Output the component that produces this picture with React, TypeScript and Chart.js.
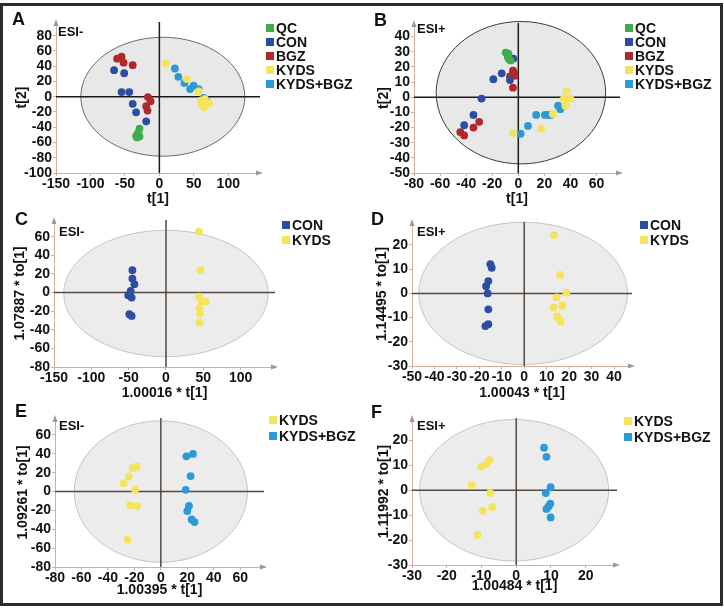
import React, { useEffect, useRef } from 'react';
import { Chart, registerables } from 'chart.js';

Chart.register(...registerables);

const FONT = "'Liberation Sans', Arial, Helvetica, sans-serif";

// ---------- colours ----------
const COL_QC = '#3fae49';
const COL_CON = '#2b4ea2';
const COL_BGZ = '#b1282b';
const COL_KYDS = '#f4e45a';
const COL_KB = '#2a9bd7';
const AXIS_COLOR = '#d9aaa2';

// ---------- data (score values) ----------
type Pt = [number, number];

// Panel A (ESI-, PCA t[1] vs t[2])
const A_QC: Pt[] = [[-28.9, -41.9], [-31.3, -47.6], [-33.8, -51.2], [-32.4, -53.4], [-28.9, -52]];
const A_CON: Pt[] = [[-65.7, 34.8], [-51, 30.8], [-54.9, 6.1], [-43.7, 6.1], [-38.7, -9.3], [-33.8, -20.4], [-19.1, -32.3]];
const A_BGZ: Pt[] = [[-61.3, 49.9], [-54.9, 52.5], [-51.9, 44.6], [-38.7, 41.4], [-16.6, -0.5], [-12.8, -5.8], [-19.1, -12.4], [-17.2, -18.1]];
const A_KYDS: Pt[] = [[9.3, 43.5], [39.7, 23.4], [57, 7], [60, -5], [66, -3], [72, -8.7], [62, -10], [65, -14]];
const A_KB: Pt[] = [[22.5, 37], [27.5, 26.1], [36.3, 18.1], [44.6, 10.1], [49.6, 14.5], [56.9, 10.1], [64.3, -1.5], [67.6, -4]];

// Panel B (ESI+, PCA)
const B_QC: Pt[] = [[-9.7, 29.5], [-7.6, 28.8], [-8.1, 26.6], [-7.1, 25], [-5.9, 24.3]];
const B_CON: Pt[] = [[-3.8, 25.5], [-12.7, 15.8], [-19.1, 11.9], [-6.4, 11.3], [-28.2, -0.9], [-34.4, -11.7], [-41.5, -18.5]];
const B_BGZ: Pt[] = [[-4.1, 17.6], [-3.3, 16], [-6.4, 13.7], [-2.8, 14.2], [-4.1, 6.3], [-30, -16.2], [-34.4, -20], [-44.5, -23], [-41.5, -25.2]];
const B_KYDS: Pt[] = [[36.9, 4.1], [34.9, -1.1], [40, -0.9], [36.1, -5.6], [26.5, -11], [17.6, -20.7], [-3.8, -23.6]];
const B_KB: Pt[] = [[1.8, -24.1], [7.4, -18.9], [13.7, -11.7], [20.4, -11.7], [22.9, -11.7], [24.7, -11.7], [30.5, -5.6], [32.3, -7.9]];

// Panel C (ESI-, OPLS-DA CON vs KYDS)
const C_CON: Pt[] = [[-45, 24], [-45, 15], [-42.3, 9], [-47.3, 1.8], [-50.5, -2.9], [-46, -5.4], [-49.1, -23.3], [-46, -25.1]];
const C_KYDS: Pt[] = [[44.1, 65.6], [46.4, 24], [44.1, -4.3], [47.7, -9.7], [53.2, -9.7], [45, -17.2], [45.5, -22.6], [45, -32.3]];

// Panel D (ESI+, OPLS-DA CON vs KYDS)
const D_CON: Pt[] = [[-15.1, 12.1], [-14.5, 10.6], [-16, 5.1], [-17, 3], [-16.3, 0], [-16, -6.6], [-16, -12.7], [-17.3, -13.5]];
const D_KYDS: Pt[] = [[13.3, 24.1], [16, 7.6], [18.8, 0.3], [14.4, -1.7], [13, -5.8], [17, -5.1], [14.8, -9.6], [16.3, -11.7]];

// Panel E (ESI-, OPLS-DA KYDS vs KYDS+BGZ)
const E_KYDS: Pt[] = [[-21.3, 24.9], [-18.3, 26.3], [-24.3, 16], [-28, 8.9], [-19.5, 1.8], [-23.3, -14.6], [-18, -15.3], [-25, -50.9]];
const E_KB: Pt[] = [[19.3, 37.4], [24.3, 39.9], [22.5, 16.4], [18.8, 1.8], [21.3, -15.3], [20, -20.6], [23.3, -29.5], [25.5, -32.4]];

// Panel F (ESI+, OPLS-DA KYDS vs KYDS+BGZ)
const F_KYDS: Pt[] = [[-7.7, 12.1], [-8.5, 10.6], [-10.1, 9.5], [-12.8, 2], [-7.5, -1.1], [-6.9, -6.7], [-9.6, -8.2], [-11.1, -17.9]];
const F_KB: Pt[] = [[8, 17.1], [8.7, 13.4], [9.9, 1.2], [8.5, -1.1], [9.8, -5.4], [9.3, -6.5], [8.7, -7.5], [9.9, -10.9]];

// Hotelling ellipses: [cx, cy, rx, ry] in data units
const A_ELLIPSE = [5, 0, 119, 78];
const B_ELLIPSE = [2, 3, 65, 47];
const C_ELLIPSE = [0, -1, 137, 68];
const D_ELLIPSE = [-0.5, 0, 46.5, 29.4];
const E_ELLIPSE = [0, 0, 65.5, 75];
const F_ELLIPSE = [-0.6, 0, 27.2, 28.4];

// ---------- types ----------
interface Series { label: string; color: string; data: Pt[] }
interface PanelCfg {
  letter: string; esi: string;
  ox: number; oy: number; w: number; h: number;
  area: { l: number; r: number; t: number; b: number };
  xMin: number; xMax: number; xStep: number;
  yMin: number; yMax: number; yStep: number;
  xTitle: string; yTitle: string; xTitleY: number; yTitleX: number;
  ellipse: number[]; ellFill: string; ellStroke: string; zeroColor: string;
  series: Series[];
  legend: { x: number; y: number; dy: number };
  letterPos: [number, number]; esiPos: [number, number];
}

const decorPlugin = {
  id: 'decor',
  beforeDatasetsDraw(chart: any, _args: any, opts: any) {
    const { ctx, chartArea: a, scales } = chart;
    const x = scales.x, y = scales.y;
    const [ecx, ecy, erx, ery] = opts.ellipse;
    ctx.save();
    const cx = x.getPixelForValue(ecx);
    const cy = y.getPixelForValue(ecy);
    const rx = Math.abs(x.getPixelForValue(ecx + erx) - cx);
    const ry = Math.abs(y.getPixelForValue(ecy + ery) - cy);
    ctx.beginPath();
    ctx.ellipse(cx, cy, rx, ry, 0, 0, Math.PI * 2);
    ctx.fillStyle = opts.fill;
    ctx.fill();
    ctx.lineWidth = 1;
    ctx.strokeStyle = opts.stroke;
    ctx.stroke();
    const x0 = x.getPixelForValue(0);
    const y0 = y.getPixelForValue(0);
    ctx.strokeStyle = opts.zero;
    ctx.lineWidth = 1.5;
    ctx.beginPath();
    ctx.moveTo(x0, a.top);
    ctx.lineTo(x0, a.bottom);
    ctx.moveTo(a.left, y0);
    ctx.lineTo(a.right, y0);
    ctx.stroke();
    ctx.restore();
  },
  afterDraw(chart: any) {
    const { ctx, chartArea: a } = chart;
    ctx.save();
    ctx.fillStyle = '#9a9a9a';
    ctx.beginPath();
    ctx.moveTo(a.left, a.top - 3);
    ctx.lineTo(a.left - 2.5, a.top + 4);
    ctx.lineTo(a.left + 2.5, a.top + 4);
    ctx.closePath();
    ctx.fill();
    ctx.beginPath();
    ctx.moveTo(a.right + 3, a.bottom);
    ctx.lineTo(a.right - 4, a.bottom - 2.5);
    ctx.lineTo(a.right - 4, a.bottom + 2.5);
    ctx.closePath();
    ctx.fill();
    ctx.restore();
  },
};

const tickFont = { family: FONT, size: 14, weight: 'bold' as const };
const titleFont = { family: FONT, size: 14, weight: 'bold' as const };

function Panel({ cfg }: { cfg: PanelCfg }) {
  const ref = useRef<HTMLCanvasElement>(null);
  useEffect(() => {
    const c = cfg;
    const chart = new Chart(ref.current as HTMLCanvasElement, {
      type: 'scatter',
      data: {
        datasets: c.series.map((s) => ({
          label: s.label,
          data: s.data.map(([x, y]) => ({ x, y })),
          backgroundColor: s.color,
          borderColor: s.color,
          pointRadius: 3.9,
          pointHoverRadius: 3.9,
          pointBorderWidth: 0,
        })),
      },
      options: {
        animation: false,
        responsive: false,
        devicePixelRatio: 1,
        layout: { padding: { left: 0, top: c.area.t - c.oy, right: c.ox + c.w - c.area.r, bottom: 0 } },
        plugins: {
          legend: { display: false },
          tooltip: { enabled: false },
          decor: { ellipse: c.ellipse, fill: c.ellFill, stroke: c.ellStroke, zero: c.zeroColor },
        } as any,
        scales: {
          x: {
            type: 'linear',
            position: 'bottom',
            min: c.xMin,
            max: c.xMax,
            afterFit: (s: any) => { s.height = c.oy + c.h - c.area.b; },
            ticks: { stepSize: c.xStep, includeBounds: false, autoSkip: false, maxRotation: 0, font: tickFont, color: '#111', padding: 0 },
            grid: { drawOnChartArea: false, drawTicks: true, tickLength: 3, color: AXIS_COLOR },
            border: { display: true, color: AXIS_COLOR, width: 1 },
            title: { display: true, text: c.xTitle, font: titleFont, color: '#111', padding: { top: 0, bottom: c.oy + c.h - c.xTitleY - 8.4 } },
          },
          y: {
            type: 'linear',
            position: 'left',
            min: c.yMin,
            max: c.yMax,
            afterFit: (s: any) => { s.width = c.area.l - c.ox; },
            ticks: { stepSize: c.yStep, includeBounds: false, autoSkip: false, font: tickFont, color: '#111', padding: 1 },
            grid: { drawOnChartArea: false, drawTicks: true, tickLength: 3, color: AXIS_COLOR },
            border: { display: true, color: AXIS_COLOR, width: 1 },
            title: { display: true, text: c.yTitle, font: titleFont, color: '#111', padding: { top: c.yTitleX - c.ox - 8.4, bottom: 0 } },
          },
        },
      } as any,
      plugins: [decorPlugin],
    });
    return () => chart.destroy();
  }, [cfg]);

  return (
    <>
      <canvas ref={ref} width={cfg.w} height={cfg.h} style={{ position: 'absolute', left: cfg.ox, top: cfg.oy }} />
      <div style={{ position: 'absolute', left: cfg.letterPos[0], top: cfg.letterPos[1], font: `bold 18px ${FONT}`, lineHeight: '18px', color: '#111' }}>{cfg.letter}</div>
      <div style={{ position: 'absolute', left: cfg.esiPos[0], top: cfg.esiPos[1], font: `bold 13px ${FONT}`, lineHeight: '13px', color: '#111' }}>{cfg.esi}</div>
      {cfg.series.map((s, i) => (
        <div key={s.label} style={{ position: 'absolute', left: cfg.legend.x, top: cfg.legend.y + i * cfg.legend.dy - 7, height: 14, display: 'flex', alignItems: 'center', whiteSpace: 'nowrap' }}>
          <span style={{ display: 'inline-block', width: 8, height: 8, background: s.color, marginRight: 2 }} />
          <span style={{ font: `bold 14px ${FONT}`, lineHeight: '14px', color: '#111' }}>{s.label}</span>
        </div>
      ))}
    </>
  );
}

const five = (qc: Pt[], con: Pt[], bgz: Pt[], kyds: Pt[], kb: Pt[]): Series[] => [
  { label: 'QC', color: COL_QC, data: qc },
  { label: 'CON', color: COL_CON, data: con },
  { label: 'BGZ', color: COL_BGZ, data: bgz },
  { label: 'KYDS', color: COL_KYDS, data: kyds },
  { label: 'KYDS+BGZ', color: COL_KB, data: kb },
];

const PANELS: PanelCfg[] = [
  {
    letter: 'A', esi: 'ESI-', ox: 0, oy: 0, w: 362, h: 212,
    area: { l: 56, r: 260, t: 22, b: 173 },
    xMin: -150, xMax: 146, xStep: 50, yMin: -100, yMax: 98, yStep: 20,
    xTitle: 't[1]', yTitle: 't[2]', xTitleY: 199, yTitleX: 22,
    ellipse: A_ELLIPSE, ellFill: '#e8e8e8', ellStroke: '#6a6a6a', zeroColor: '#1a1a1a',
    series: five(A_QC, A_CON, A_BGZ, A_KYDS, A_KB),
    legend: { x: 266, y: 28, dy: 14 }, letterPos: [12, 10], esiPos: [58, 25],
  },
  {
    letter: 'B', esi: 'ESI+', ox: 362, oy: 0, w: 362, h: 212,
    area: { l: 414, r: 620, t: 23, b: 173 },
    xMin: -80, xMax: 78, xStep: 20, yMin: -50, yMax: 49, yStep: 10,
    xTitle: 't[1]', yTitle: 't[2]', xTitleY: 199, yTitleX: 384,
    ellipse: B_ELLIPSE, ellFill: '#e8e8e8', ellStroke: '#3a3a3a', zeroColor: '#1a1a1a',
    series: five(B_QC, B_CON, B_BGZ, B_KYDS, B_KB),
    legend: { x: 625, y: 28, dy: 14 }, letterPos: [374, 11], esiPos: [417, 22],
  },
  {
    letter: 'C', esi: 'ESI-', ox: 0, oy: 205, w: 362, h: 200,
    area: { l: 54, r: 275, t: 220, b: 367 },
    xMin: -150, xMax: 146, xStep: 50, yMin: -80, yMax: 78, yStep: 20,
    xTitle: '1.00016 * t[1]', yTitle: '1.07887 * to[1]', xTitleY: 393, yTitleX: 20,
    ellipse: C_ELLIPSE, ellFill: '#ececec', ellStroke: '#c4c4c4', zeroColor: '#55483f',
    series: [
      { label: 'CON', color: COL_CON, data: C_CON },
      { label: 'KYDS', color: COL_KYDS, data: C_KYDS },
    ],
    legend: { x: 282, y: 225, dy: 15 }, letterPos: [15, 210], esiPos: [59, 225],
  },
  {
    letter: 'D', esi: 'ESI+', ox: 362, oy: 205, w: 362, h: 200,
    area: { l: 412, r: 632, t: 222, b: 366 },
    xMin: -50, xMax: 48, xStep: 10, yMin: -30, yMax: 29.5, yStep: 10,
    xTitle: '1.00043 * t[1]', yTitle: '1.14495 * to[1]', xTitleY: 393, yTitleX: 382,
    ellipse: D_ELLIPSE, ellFill: '#ececec', ellStroke: '#c4c4c4', zeroColor: '#55483f',
    series: [
      { label: 'CON', color: COL_CON, data: D_CON },
      { label: 'KYDS', color: COL_KYDS, data: D_KYDS },
    ],
    legend: { x: 640, y: 225, dy: 15 }, letterPos: [371, 210], esiPos: [417, 225],
  },
  {
    letter: 'E', esi: 'ESI-', ox: 0, oy: 405, w: 362, h: 200,
    area: { l: 55, r: 264, t: 418, b: 567 },
    xMin: -80, xMax: 78, xStep: 20, yMin: -80, yMax: 78, yStep: 20,
    xTitle: '1.00395 * t[1]', yTitle: '1.09261 * to[1]', xTitleY: 590, yTitleX: 23,
    ellipse: E_ELLIPSE, ellFill: '#ececec', ellStroke: '#c4c4c4', zeroColor: '#55483f',
    series: [
      { label: 'KYDS', color: COL_KYDS, data: E_KYDS },
      { label: 'KYDS+BGZ', color: COL_KB, data: E_KB },
    ],
    legend: { x: 269, y: 420, dy: 15.5 }, letterPos: [15, 402], esiPos: [59, 419],
  },
  {
    letter: 'F', esi: 'ESI+', ox: 362, oy: 405, w: 362, h: 200,
    area: { l: 412, r: 617, t: 418, b: 565 },
    xMin: -30, xMax: 29, xStep: 10, yMin: -30, yMax: 29, yStep: 10,
    xTitle: '1.00484 * t[1]', yTitle: '1.11992 * to[1]', xTitleY: 586, yTitleX: 384,
    ellipse: F_ELLIPSE, ellFill: '#ececec', ellStroke: '#c4c4c4', zeroColor: '#55483f',
    series: [
      { label: 'KYDS', color: COL_KYDS, data: F_KYDS },
      { label: 'KYDS+BGZ', color: COL_KB, data: F_KB },
    ],
    legend: { x: 624, y: 421, dy: 15.5 }, letterPos: [371, 403], esiPos: [417, 419],
  },
];

export default function App() {
  return (
    <div style={{ position: 'absolute', left: 0, top: 0, width: 724, height: 609, background: '#fff', overflow: 'hidden' }}>
      {PANELS.map((p) => <Panel key={p.letter} cfg={p} />)}
      <div style={{ position: 'absolute', left: 0, top: 3, width: 723, height: 603, border: '3px solid #2e2b2b', boxSizing: 'border-box', pointerEvents: 'none' }} />
    </div>
  );
}
